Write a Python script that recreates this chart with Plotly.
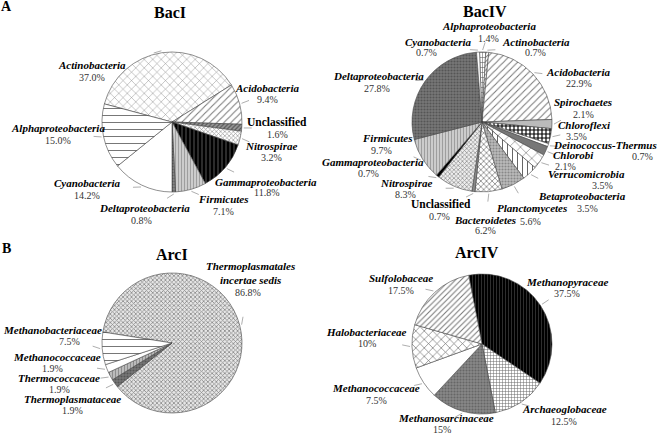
import math
import plotly.graph_objects as go

# ---------------- data ----------------
bac1_names = ["Actinobacteria", "Acidobacteria", "Unclassified", "Nitrospirae",
              "Gammaproteobacteria", "Firmicutes", "Deltaproteobacteria",
              "Cyanobacteria", "Alphaproteobacteria"]
bac1_values = [37.0, 9.4, 1.6, 3.2, 11.8, 7.1, 0.8, 14.2, 15.0]

bac4_names = ["Alphaproteobacteria", "Actinobacteria", "Acidobacteria", "Spirochaetes",
              "Chloroflexi", "Deinococcus-Thermus", "Chlorobi", "Verrucomicrobia",
              "Betaproteobacteria", "Planctomycetes", "Bacteroidetes", "Unclassified",
              "Nitrospirae", "Gammaproteobacteria", "Firmicutes", "Deltaproteobacteria",
              "Cyanobacteria"]
bac4_values = [1.4, 0.7, 22.9, 2.1, 3.5, 0.7, 2.1, 3.5, 3.5, 5.6, 6.2, 0.7,
               8.3, 0.7, 9.7, 27.8, 0.7]

arc1_names = ["Thermoplasmatales incertae sedis", "Thermoplasmataceae",
              "Thermococcaceae", "Methanococcaceae", "Methanobacteriaceae"]
arc1_values = [86.8, 1.9, 1.9, 1.9, 7.5]

arc4_names = ["Methanopyraceae", "Archaeoglobaceae", "Methanosarcinaceae",
              "Methanococcaceae", "Halobacteriaceae", "Sulfolobaceae"]
arc4_values = [37.5, 12.5, 15, 7.5, 10, 17.5]

titles = ["BacI", "BacIV", "ArcI", "ArcIV"]

# ---------------- layout / style ----------------
W, H = 664, 435
R = 70
FONT = "Liberation Serif"

# pie: (center x, center y, rotation, pct format)
pie_geo = {
    "BacI": (172, 122, -75, "{:.1f}%"),
    "BacIV": (482, 122, -2, "{:.1f}%"),
    "ArcI": (172, 343, -81, "{:.1f}%"),
    "ArcIV": (482, 344, -11, "{:g}%"),
}
title_pos = {"BacI": (170, 13), "BacIV": (485, 11), "ArcI": (172, 254), "ArcIV": (477, 252)}

# pattern styles: (shape, bg, fg, size, solidity)
def P(shape, bg, fg="#000", size=6, sol=0.2):
    return (shape, bg, fg, size, sol)

styles = {
    "BacI": [P("x", "#fff", "#888", 6, 0.15), P("/", "#fff", "#777", 5, 0.2),
             P("/", "#999", "#555", 3, 0.4), P("x", "#fff", "#999", 3, 0.4),
             P("|", "#000", "#555", 4, 0.25), P("|", "#ccc", "#999", 3, 0.3),
             P(".", "#888", "#555", 3, 0.4), P("", "#fff"), P("-", "#fff", "#777", 7, 0.15)],
    "BacIV": [P("+", "#fff", "#555", 5, 0.2), P("/", "#fff", "#777", 3, 0.3),
              P("/", "#fff", "#777", 5, 0.2), P("", "#bbb"),
              P("+", "#fff", "#000", 4, 0.5), P("", "#fff"),
              P("", "#777"), P("x", "#fff", "#555", 8, 0.12),
              P("|", "#fff", "#666", 5, 0.2), P(".", "#bbb", "#888", 3, 0.4),
              P("x", "#fff", "#666", 4, 0.3), P("", "#888"),
              P("x", "#eee", "#888", 3, 0.4), P("", "#000"),
              P("|", "#ccc", "#999", 3, 0.3), P(".", "#777", "#555", 3, 0.4), P("", "#fff")],
    "ArcI": [P("x", "#e6e6e6", "#888", 3, 0.45), P(".", "#777", "#555", 3, 0.4),
             P("|", "#bbb", "#888", 3, 0.3), P("", "#fff"), P("-", "#fff", "#777", 7, 0.15)],
    "ArcIV": [P("|", "#000", "#333", 3, 0.3), P("+", "#fff", "#666", 3, 0.3),
              P(".", "#888", "#666", 3, 0.4), P("", "#fff"),
              P("x", "#fff", "#666", 6, 0.2), P("/", "#fff", "#777", 4, 0.25)],
}

# label positions: name -> ((name x, name y), (pct x, pct y))
label_pos = {
    "BacI": {
        "Actinobacteria": ((92, 65), (92, 77)),
        "Acidobacteria": ((267, 88), (267, 99)),
        "Unclassified": ((277, 122), (277, 134)),
        "Nitrospirae": ((271, 146), (271, 157)),
        "Gammaproteobacteria": ((266, 182), (266, 193)),
        "Firmicutes": ((223, 199), (223, 211)),
        "Deltaproteobacteria": ((144, 208), (141, 220)),
        "Cyanobacteria": ((87, 183), (87, 195)),
        "Alphaproteobacteria": ((58, 128), (58, 140)),
    },
    "BacIV": {
        "Alphaproteobacteria": ((489, 26), (488, 38)),
        "Actinobacteria": ((536, 42), (535, 53)),
        "Acidobacteria": ((578, 72), (579, 84)),
        "Spirochaetes": ((583, 102), (583, 114)),
        "Chloroflexi": ((584, 125), (576, 136)),
        "Deinococcus-Thermus": ((605, 145), (642, 156)),
        "Chlorobi": ((573, 155), (565, 166)),
        "Verrucomicrobia": ((586, 174), (602, 185)),
        "Betaproteobacteria": ((582, 196), (587, 209)),
        "Planctomycetes": ((532, 208), (530, 221)),
        "Bacteroidetes": ((485, 220), (485, 231)),
        "Unclassified": ((441, 204), (439, 216)),
        "Nitrospirae": ((406, 183), (405, 194)),
        "Gammaproteobacteria": ((373, 162), (368, 173)),
        "Firmicutes": ((387, 138), (381, 150)),
        "Deltaproteobacteria": ((378, 76), (377, 88)),
        "Cyanobacteria": ((438, 42), (426, 53)),
    },
    "ArcI": {
        "Thermoplasmatales incertae sedis": ((250, 273), (248, 292)),
        "Thermoplasmataceae": ((72, 399), (72, 410)),
        "Thermococcaceae": ((59, 378), (59, 389)),
        "Methanococcaceae": ((57, 357), (53, 368)),
        "Methanobacteriaceae": ((52, 330), (69, 341)),
    },
    "ArcIV": {
        "Methanopyraceae": ((567, 282), (567, 293)),
        "Archaeoglobaceae": ((564, 409), (564, 421)),
        "Methanosarcinaceae": ((446, 418), (442, 429)),
        "Methanococcaceae": ((376, 388), (376, 400)),
        "Halobacteriaceae": ((366, 332), (367, 343)),
        "Sulfolobaceae": ((401, 278), (401, 290)),
    },
}

all_names = {"BacI": bac1_names, "BacIV": bac4_names, "ArcI": arc1_names, "ArcIV": arc4_names}
all_values = {"BacI": bac1_values, "BacIV": bac4_values, "ArcI": arc1_values, "ArcIV": arc4_values}

fig = go.Figure()
annotations = []
shapes = []


def px2paper(x, y):
    return x / W, 1 - y / H


def ann(x, y, text, size, color="#111"):
    px_, py_ = px2paper(x, y)
    return dict(x=px_, y=py_, xref="paper", yref="paper", showarrow=False,
                xanchor="center", yanchor="middle", borderpad=0,
                text=text, font=dict(family=FONT, size=size, color=color))


for key in titles:
    names = all_names[key]
    vals = all_values[key]
    cx, cy, rot, fmt = pie_geo[key]
    st = styles[key]
    fig.add_trace(go.Pie(
        labels=names, values=vals, sort=False, direction="clockwise", rotation=rot,
        textinfo="none", hoverinfo="label+percent", showlegend=False,
        domain=dict(x=[(cx - R) / W, (cx + R) / W], y=[1 - (cy + R) / H, 1 - (cy - R) / H]),
        marker=dict(
            colors=[s[1] for s in st],
            line=dict(color="#444", width=0.6),
            pattern=dict(shape=[s[0] for s in st], bgcolor=[s[1] for s in st],
                         fgcolor=[s[2] for s in st], size=[s[3] for s in st],
                         solidity=[s[4] for s in st], fillmode="replace"),
        ),
    ))
    annotations.append(ann(*title_pos[key], "<b>" + key + "</b>", 16, "#000"))
    total = sum(vals)
    cum = 0
    for n, v in zip(names, vals):
        mid = cum + v / 2
        cum += v
        phi = math.radians(rot + 360 * mid / total)
        (nx, ny), (qx, qy) = label_pos[key][n]
        if n == "Unclassified":
            ntext, nsize = "<b>" + n + "</b>", 11.5
        elif n == "Thermoplasmatales incertae sedis":
            ntext, nsize = "<b><i>Thermoplasmatales</i></b><br><b><i>incertae sedis</i></b>", 11
        else:
            ntext, nsize = "<b><i>" + n + "</i></b>", 11
        annotations.append(ann(nx, ny, ntext, nsize, "#000"))
        annotations.append(ann(qx, qy, fmt.format(v), 10, "#333"))
        # leader line
        ex = cx + (R + 2) * math.sin(phi)
        ey = cy - (R + 2) * math.cos(phi)
        lx, ly = (nx + qx) / 2, (ny + qy) / 2
        d = math.hypot(lx - ex, ly - ey)
        if d > 14:
            sx = ex + 8 * (lx - ex) / d
            sy = ey + 8 * (ly - ey) / d
            p0 = px2paper(ex, ey)
            p1 = px2paper(sx, sy)
            shapes.append(dict(type="line", xref="paper", yref="paper",
                               x0=p0[0], y0=p0[1], x1=p1[0], y1=p1[1],
                               line=dict(color="#999", width=0.8)))

annotations.append(ann(7, 6, "<b>A</b>", 14, "#000"))
annotations.append(ann(7, 248, "<b>B</b>", 14, "#000"))

fig.update_layout(width=W, height=H, margin=dict(l=0, r=0, t=0, b=0),
                  paper_bgcolor="white", plot_bgcolor="white",
                  annotations=annotations, shapes=shapes)

fig.write_html("out.html", config={"displayModeBar": False},
               post_script="document.body.style.margin='0';document.body.style.padding='0';")
